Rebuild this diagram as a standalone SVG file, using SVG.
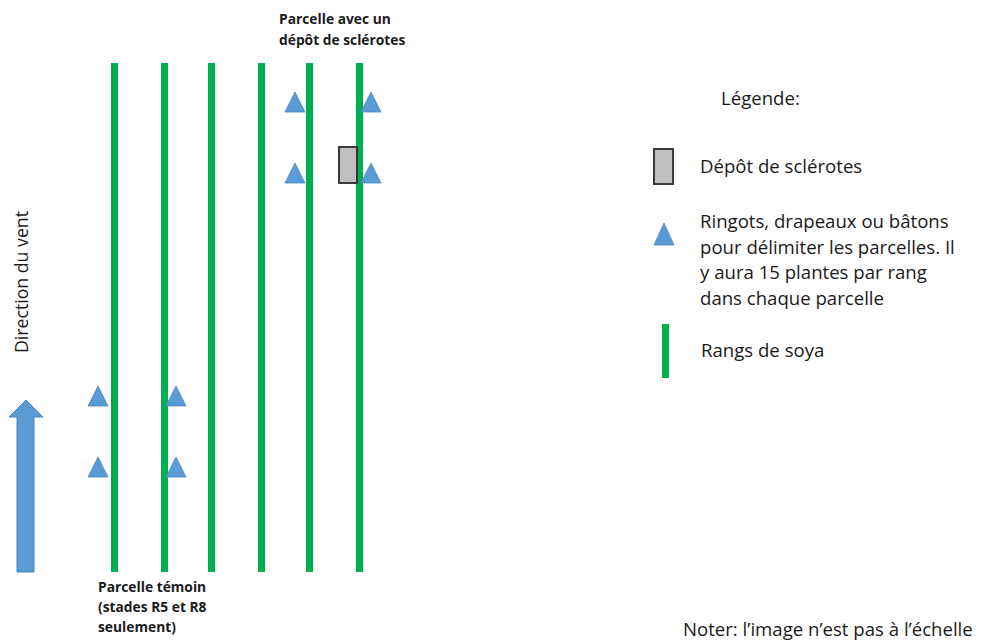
<svg xmlns="http://www.w3.org/2000/svg" width="984" height="641" viewBox="0 0 984 641">
  <defs>
    <style>
      .row { fill: #00B050; }
      .stake { fill: #5B9BD5; stroke: #4A86C0; stroke-width: 0.8; }
      .deposit { fill: #BFBFBF; stroke: #3A3A3A; stroke-width: 2; }
      .txt { font-family: "Open Sans", "Liberation Sans", sans-serif; font-size: 18.6px; fill: #1a1a1a; }
      .side { font-family: "Open Sans", "Liberation Sans", sans-serif; font-size: 17.7px; fill: #1a1a1a; }
      .lbl { font-family: "Open Sans", "Liberation Sans", sans-serif; font-size: 13.8px; font-weight: bold; fill: #1a1a1a; }
    </style>
    <polygon id="tri" class="stake" points="0,-10 10,10 -10,10"/>
  </defs>

  <rect width="984" height="641" fill="#ffffff"/>

  <!-- soybean rows -->
  <g id="rows">
    <rect class="row" x="111" y="63" width="7" height="509"/>
    <rect class="row" x="161" y="63" width="7" height="509"/>
    <rect class="row" x="208" y="63" width="7" height="509"/>
    <rect class="row" x="258" y="63" width="7" height="509"/>
    <rect class="row" x="306" y="63" width="7" height="509"/>
    <rect class="row" x="356" y="63" width="7" height="509"/>
  </g>

  <!-- sclerotia deposit -->
  <g id="deposit">
    <rect class="deposit" x="339" y="147" width="18" height="36"/>
  </g>

  <!-- plot stakes -->
  <g id="stakes">
    <use href="#tri" x="295" y="102"/>
    <use href="#tri" x="371" y="102"/>
    <use href="#tri" x="295" y="173"/>
    <use href="#tri" x="371" y="173"/>
    <use href="#tri" x="98" y="396"/>
    <use href="#tri" x="176" y="396"/>
    <use href="#tri" x="98" y="467"/>
    <use href="#tri" x="176" y="467"/>
  </g>

  <!-- wind direction -->
  <g id="wind">
    <polygon points="26,400 43,417 34,417 34,572 17,572 17,417 9,417" fill="#5B9BD5" stroke="#4A86C0" stroke-width="1"/>
    <text class="side" transform="translate(28,282) rotate(-90)" text-anchor="middle">Direction du vent</text>
  </g>

  <!-- plot labels -->
  <g id="label-deposit">
    <text class="lbl" x="279" y="24">Parcelle avec un</text>
    <text class="lbl" x="279" y="45">dépôt de sclérotes</text>
  </g>
  <g id="label-control">
    <text class="lbl" x="98" y="592">Parcelle témoin</text>
    <text class="lbl" x="98" y="612">(stades R5 et R8</text>
    <text class="lbl" x="98" y="632">seulement)</text>
  </g>

  <!-- legend -->
  <g id="legend">
    <text class="txt" x="721" y="105">Légende:</text>
    <rect class="deposit" x="654" y="149" width="19" height="35"/>
    <text class="txt" x="700" y="173">Dépôt de sclérotes</text>
    <polygon class="stake" points="664,223 674,245 654,245"/>
    <text class="txt" x="700" y="228">Ringots, drapeaux ou bâtons</text>
    <text class="txt" x="700" y="254">pour délimiter les parcelles. Il</text>
    <text class="txt" x="700" y="279">y aura 15 plantes par rang</text>
    <text class="txt" x="700" y="305">dans chaque parcelle</text>
    <rect class="row" x="662" y="324" width="7" height="54"/>
    <text class="txt" x="701" y="357">Rangs de soya</text>
  </g>

  <g id="note">
    <text class="txt" x="683" y="636">Noter: l’image n’est pas à l’échelle</text>
  </g>
</svg>
